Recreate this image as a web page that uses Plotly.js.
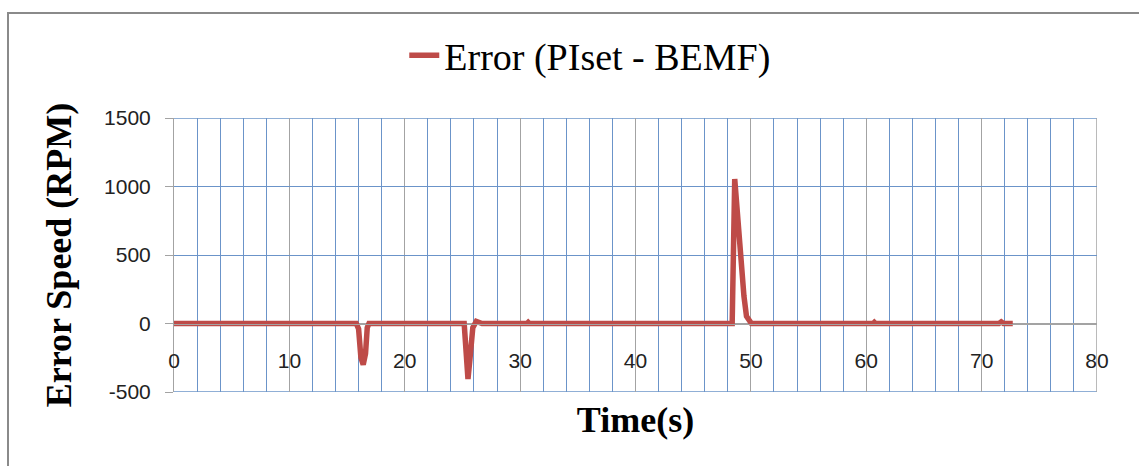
<!DOCTYPE html>
<html>
<head>
<meta charset="utf-8">
<script src="https://cdn.plot.ly/plotly-3.0.1.min.js"></script>
<style>
  html, body { margin: 0; padding: 0; background: #fff; overflow: hidden; }
  #wrap { position: relative; width: 1139px; height: 466px; }
  #chart { position: absolute; left: 0; top: 0; width: 1139px; height: 466px; }
  #frame { position: absolute; left: 7px; top: 12px; width: 1200px; height: 600px;
           border: 2px solid #8a8a8a; pointer-events: none; box-sizing: border-box; }
</style>
</head>
<body>
<div id="wrap">
  <div id="chart"></div>
  <div id="frame"></div>
</div>
<script>
// Time (s)
const time = [0, 15.8, 16.0, 16.2, 16.4, 16.6, 16.75, 16.9,
  25.15, 25.3, 25.48, 25.65, 25.9, 26.2, 26.45, 26.7,
  30.6, 30.7, 30.8, 37.4, 37.5, 37.6, 42.0, 42.1, 42.2,
  48.38, 48.6, 48.93, 49.13, 49.4, 49.62, 50.05,
  60.6, 60.7, 60.8, 63.9, 64.0, 64.1, 71.5, 71.7, 71.9, 72.7];
// Error (PIset - BEMF), RPM
const errorRPM = [0, 0, -40, -250, -300, -220, -30, 0,
  0, -150, -405, -260, -30, 15, 5, 0,
  0, 8, 0, 0, 8, 0, 0, 8, 0,
  0, 1055, 660, 500, 200, 53, 0,
  0, 8, 0, 0, 8, 0, 0, 12, 0, 0];
const seriesName = 'Error (PIset - BEMF)';
const xTitle = 'Time(s)';
const yTitle = 'Error Speed (RPM)';
const yTickVals = [-500, 0, 500, 1000, 1500];
const yTickText = ['-500', '0', '500', '1000', '1500'];
const xTickVals = [0, 10, 20, 30, 40, 50, 60, 70, 80];
const xTickText = ['0', '10', '20', '30', '40', '50', '60', '70', '80'];

const blue = '#6B94C9';
const gray = '#A3A3A3';
const tickFont = {family: 'Liberation Sans, Arial, sans-serif', size: 21, color: '#222'};
const titleFont = {family: 'Liberation Serif, Times New Roman, serif', size: 36, color: '#000', weight: 'bold'};

const trace = {
  x: time, y: errorRPM, type: 'scatter', mode: 'lines', name: seriesName,
  line: {color: '#BE4B48', width: 5.5}
};

const xMin = xTickVals[0], xMax = xTickVals[xTickVals.length - 1];
const yMin = yTickVals[0], yMax = yTickVals[yTickVals.length - 1];

const layout = {
  width: 1139, height: 466,
  margin: {l: 174, r: 42, t: 118, b: 74},
  paper_bgcolor: 'rgba(0,0,0,0)', plot_bgcolor: '#fff',
  showlegend: true,
  legend: {orientation: 'h', x: 0.451, xanchor: 'center', y: 1.228, yanchor: 'middle',
    font: {family: 'Liberation Serif, Times New Roman, serif', size: 38, color: '#000'},
    bgcolor: 'rgba(0,0,0,0)'},
  xaxis: {
    range: [xMin, xMax], tickvals: xTickVals, ticktext: xTickText,
    showgrid: true, gridcolor: gray, gridwidth: 1,
    minor: {dtick: 2, tick0: 0, showgrid: true, gridcolor: blue, gridwidth: 1, ticks: ''},
    anchor: 'free', position: 0.25,
    showline: true, linecolor: gray, linewidth: 1,
    ticks: '', zeroline: false,
    tickfont: tickFont, ticklabelstandoff: 18,
    title: {text: xTitle, font: titleFont, standoff: 36}
  },
  yaxis: {
    range: [yMin, yMax], tickvals: yTickVals, ticktext: yTickText,
    showgrid: true, gridcolor: blue, gridwidth: 1,
    showline: true, linecolor: gray, linewidth: 1,
    ticks: 'outside', ticklen: 8, tickcolor: gray, tickwidth: 1,
    zeroline: true, zerolinecolor: gray, zerolinewidth: 1,
    tickfont: tickFont, ticklabelstandoff: 10,
    title: {text: yTitle, font: titleFont, standoff: 21}
  },
  shapes: [
    {type: 'line', xref: 'x', yref: 'y', x0: xMin, x1: xMax, y0: yMin, y1: yMin, line: {color: blue, width: 1.5}, layer: 'below'},
    {type: 'line', xref: 'x', yref: 'y', x0: xMin, x1: xMax, y0: yMax, y1: yMax, line: {color: blue, width: 1.5}, layer: 'below'},
    {type: 'line', xref: 'x', yref: 'y', x0: xMax, x1: xMax, y0: yMin, y1: yMax, line: {color: gray, width: 1.5}, layer: 'below'}
  ]
};

Plotly.newPlot('chart', [trace], layout, {displayModeBar: false, staticPlot: true});
</script>
</body>
</html>
